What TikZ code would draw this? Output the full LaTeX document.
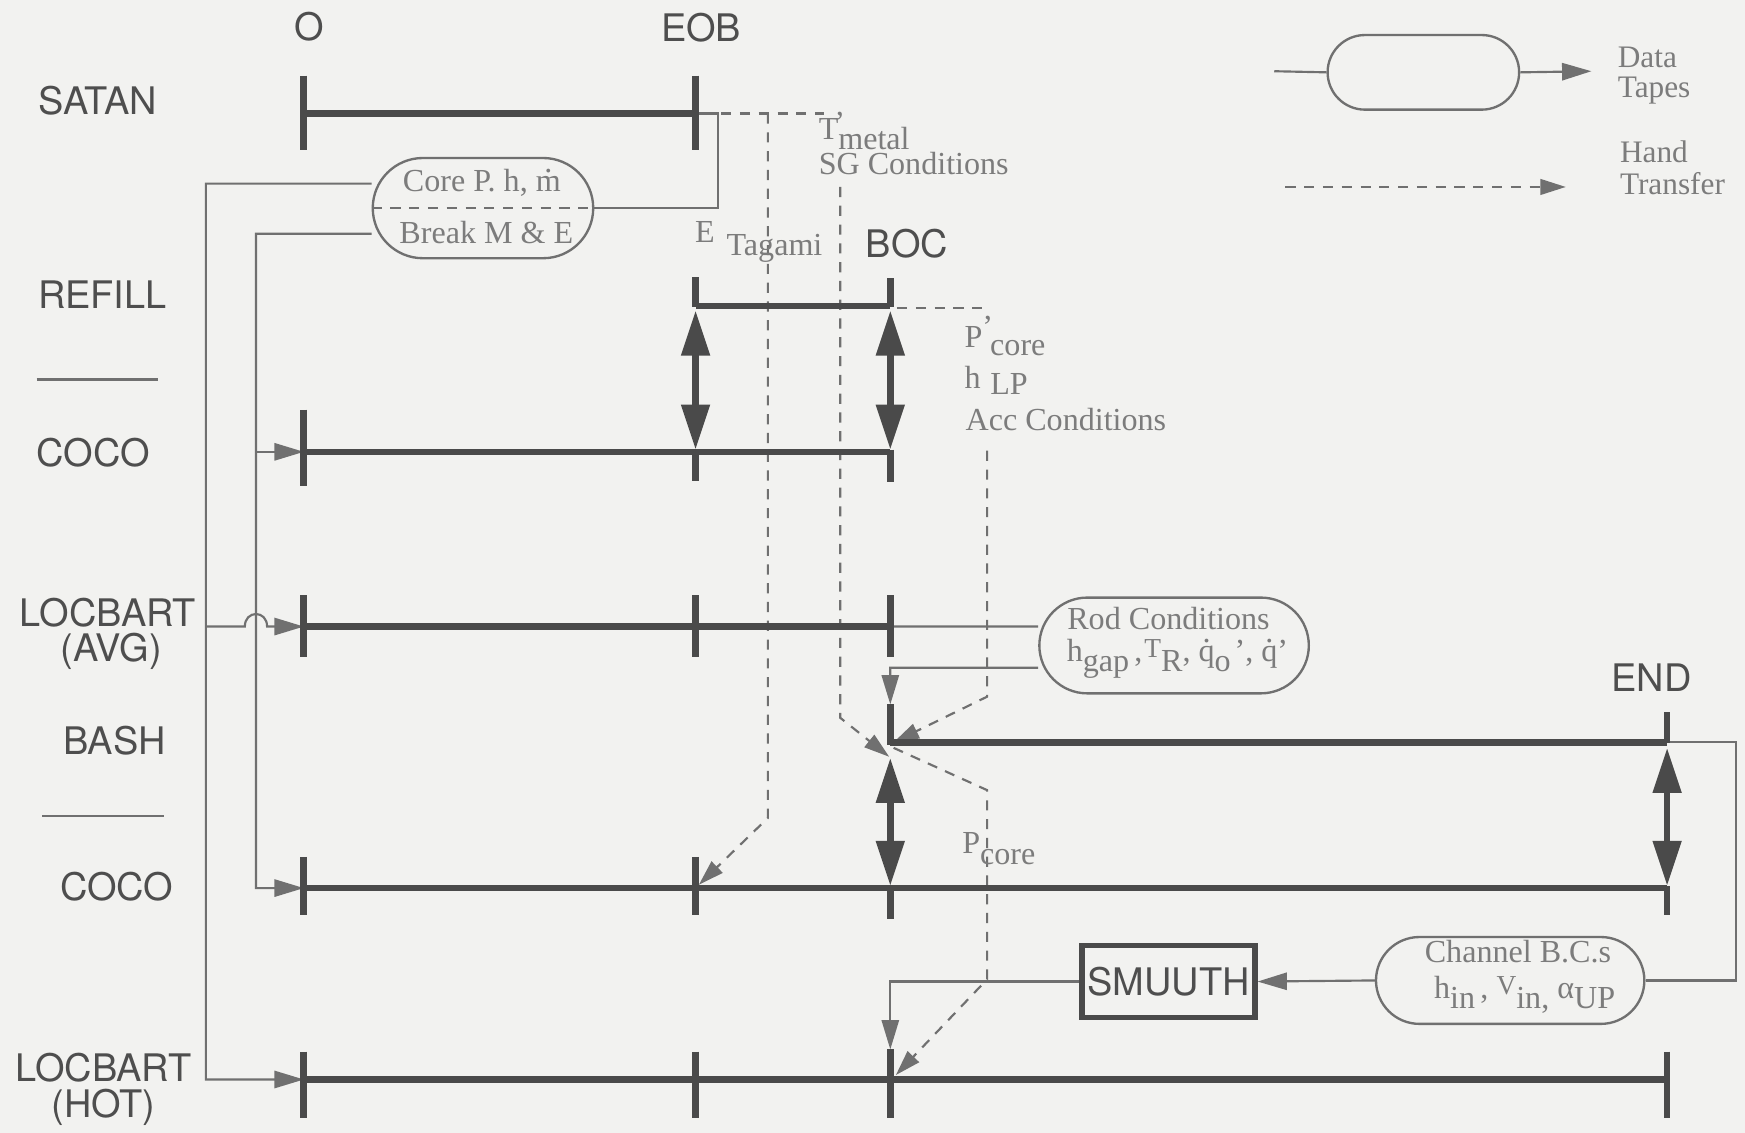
\documentclass[tikz,border=0pt]{standalone}
\usepackage{fontspec}
\setmainfont{Liberation Serif}
\newfontfamily\hv{TeX Gyre Heros}
\usetikzlibrary{arrows.meta,shapes.misc}
\definecolor{bgc}{HTML}{F2F2F0}
\definecolor{ink}{HTML}{4A4A4A}
\definecolor{thinc}{HTML}{707070}
\definecolor{txt}{HTML}{7C7C7C}
\definecolor{lab}{HTML}{4E4E4E}
\pgfdeclarelayer{bglayer}
\pgfdeclarelayer{linelayer}
\pgfsetlayers{bglayer,linelayer,main}
\newcommand\sbs[2][2.6pt]{\raisebox{-#1}{#2}}
\newcommand\mydot[1]{\setbox0=\hbox{#1}\hbox{\rlap{\hbox to \wd0{\hss\smash{\raisebox{0.58em}{.}}\hss}}\box0}}
\begin{document}
\begin{tikzpicture}[x=0.01cm,y=-0.01cm,
  tl/.style={line width=1.7pt,draw=ink},
  thn/.style={line width=0.55pt,draw=thinc},
  hnd/.style={line width=0.55pt,draw=thinc,dash pattern=on 2.6pt off 2.2pt},
  arr/.style={-{Triangle[length=7.5pt,width=4.4pt]}},
  harr/.style={-{Triangle[length=6.5pt,width=4pt]}},
  dbl/.style={line width=1.7pt,draw=ink,{Triangle[length=11.5pt,width=7pt]}-{Triangle[length=11.5pt,width=7pt]}},
  sans/.style={font=\hv\fontsize{9.7}{11}\selectfont,text=lab,inner sep=0pt},
  ser/.style={font=\fontsize{8.2}{9}\selectfont,text=txt,inner sep=0pt},
  leg/.style={font=\fontsize{8}{9}\selectfont,text=txt,inner sep=0pt},
  pill/.style={rounded rectangle,draw=thinc,line width=0.6pt,fill=bgc,inner sep=0pt},
]
\begin{pgfonlayer}{bglayer}
\fill[bgc] (0,0) rectangle (1568,1018);
\end{pgfonlayer}
\useasboundingbox (0,0) rectangle (1568,1018);

% timeline points
\coordinate (sO) at (273,102); \coordinate (sE) at (625,102);
\coordinate (rE) at (625,275); \coordinate (rB) at (800,275);
\coordinate (aO) at (273,406); \coordinate (aE) at (625,406); \coordinate (aB) at (800,406);
\coordinate (vO) at (273,563); \coordinate (vE) at (625,563); \coordinate (vB) at (800,563);
\coordinate (bB) at (800,667); \coordinate (bN) at (1498,667);
\coordinate (cO) at (273,798); \coordinate (cE) at (625,798); \coordinate (cB) at (800,798); \coordinate (cN) at (1498,798);
\coordinate (hO) at (273,970); \coordinate (hE) at (625,970); \coordinate (hB) at (800,970); \coordinate (hN) at (1498,970);

% SATAN
\draw[tl] (sO) -- (sE);
\draw[tl] (273,68) -- (273,135); \draw[tl] (625,68) -- (625,135);
% REFILL
\draw[tl] (rE) -- (rB);
\draw[tl] (625,249) -- (625,276); \draw[tl] (800,250) -- (800,276);
\draw[dbl] (625,279) -- (625,404);
\draw[dbl] (800,279) -- (800,404);
% COCO 1
\draw[tl] (aO) -- (aB);
\draw[tl] (273,368) -- (273,437); \draw[tl] (625,404) -- (625,432); \draw[tl] (800,404) -- (800,433);
% LOCBART AVG
\draw[tl] (vO) -- (vB);
\draw[tl] (273,535) -- (273,590); \draw[tl] (625,535) -- (625,590); \draw[tl] (800,535) -- (800,590);
% BASH
\draw[tl] (bB) -- (bN);
\draw[tl] (800,633) -- (800,669); \draw[tl] (1498,640) -- (1498,668);
\draw[dbl] (800,681) -- (800,796);
\draw[dbl] (1498,672) -- (1498,796);
% COCO 2
\draw[tl] (cO) -- (cN);
\draw[tl] (273,770) -- (273,822); \draw[tl] (625,770) -- (625,822);
\draw[tl] (800,796) -- (800,826); \draw[tl] (1498,796) -- (1498,822);
% LOCBART HOT
\draw[tl] (hO) -- (hN);
\draw[tl] (273,945) -- (273,1005); \draw[tl] (625,945) -- (625,1005);
\draw[tl] (800,943) -- (800,1005); \draw[tl] (1498,945) -- (1498,1005);

% separators
\draw[thn] (33,341) -- (142,341);
\draw[thn] (38,733) -- (147,733);

% pills and box
\node[pill,minimum width=1.98cm,minimum height=0.9cm] (core) at (434,187) {};
\draw[hnd] (core.west) -- (core.east);
\node[ser,anchor=base] (coret) at (433,172) {Core P. h, \mydot{m}};
\node[ser,anchor=base] (coreb) at (437,219) {Break M \& E};

\node[pill,minimum width=2.42cm,minimum height=0.86cm] (rod) at (1055,580) {};
\node[ser,anchor=base] (rod1) at (1050,566) {Rod Conditions};
\node[ser,anchor=base] (rod2) at (1058,594) {h\sbs{gap}\,,\kern0.5pt\raisebox{1pt}{\fontsize{7}{8}\selectfont T}\sbs{R}, \mydot{q}\sbs{o}\kern1pt’, \mydot{q}’};

\node[pill,minimum width=2.41cm,minimum height=0.78cm] (chan) at (1357,881) {};
\node[ser,anchor=base] (ch1) at (1364,865) {Channel B.C.s};
\node[ser,anchor=base] (ch2) at (1370,897) {h\sbs{in}\,, \raisebox{1pt}{\fontsize{7}{8}\selectfont V}\sbs{in,} α\sbs{UP}};

\node[sans,draw=ink,line width=1.4pt,fill=bgc,minimum width=1.55cm,minimum height=0.65cm] (smu) at (1050,882) {SMUUTH};

\node[pill,minimum width=1.72cm,minimum height=0.67cm] (leg) at (1279,65) {};

% connectors
\begin{pgfonlayer}{linelayer}
\draw[thn] (sE) -- (645,102) -- (645,187) -- (core.east);
\draw[thn,arr] ([yshift=0.22cm]core.west) -- (185,165) -- (185,970) -- (hO);
\draw[thn,arr] ([yshift=-0.23cm]core.west) -- (230,210) -- (230,798) -- (cO);
\draw[thn,arr] (230,406) -- (aO);
\draw[thn,arr] (185,563) -- (220,563) .. controls (220,548) and (240,548) .. (240,563) -- (vO);
\draw[thn] (vB) -- ([yshift=0.17cm]rod.west);
\draw[thn,arr] ([yshift=-0.2cm]rod.west) -- (800,600) -- (800,633);
\draw[thn] (bN) -- (1560,667) -- (1560,881) -- (chan.east);
\draw[thn,arr] (chan.west) -- (smu.east);
\draw[thn,arr] (smu.west) -- (800,882) -- (800,943);
\draw[thn] (1145,64) -- (leg.west);
\draw[thn,arr] (leg.east) -- (1430,64);
% hand transfers
\draw[hnd] (648,102) -- (740,102);
\draw[hnd,harr] (690,102) -- (690,735) -- (628,795);
\draw[hnd,harr] (755,168) -- (755,645) -- (799,680);
\draw[hnd] (806,277) -- (890,277);
\draw[hnd,harr] (887,405) -- (887,626) -- (803,667);
\draw[hnd,harr] (803,672) -- (887,710) -- (887,880) -- (805,966);
\draw[hnd,harr] (1155,168) -- (1407,168);
\end{pgfonlayer}

% row labels
\node[sans,anchor=base] (nSat) at (88,103) {SATAN};
\node[sans,anchor=base] (nRef) at (92,277) {REFILL};
\node[sans,anchor=base] (nC1) at (84,419) {COCO};
\node[sans,anchor=base] (nLA1) at (97,563) {LOCBART};
\node[sans,anchor=base] (nLA2) at (100,594) {(AVG)};
\node[sans,anchor=base] (nBash) at (103,678) {BASH};
\node[sans,anchor=base] (nC2) at (105,809) {COCO};
\node[sans,anchor=base] (nLH1) at (93,972) {LOCBART};
\node[sans,anchor=base] (nLH2) at (93,1004) {(HOT)};
% column labels
\node[sans,anchor=base] (lO) at (278,36) {O};
\node[sans,anchor=base] (lEOB) at (630,37) {EOB};
\node[sans,anchor=base] (lBOC) at (815,231) {BOC};
\node[sans,anchor=base] (lEND) at (1484,621) {END};

% transfer labels
\node[ser,anchor=base west] (tmet) at (735,125) {T\rlap{\kern-1pt\raisebox{1.5pt}{’}}\sbs[2.6pt]{metal}};
\node[ser,anchor=base west] (sgc) at (735,157) {SG Conditions};
\node[ser,anchor=base west] (etag) at (624,218) {E\kern3pt\sbs[3.4pt]{Tagami}};
\node[ser,anchor=base west] (pc1) at (866,312) {P\rlap{\raisebox{2.5pt}{’}}\kern2pt\sbs[2pt]{core}};
\node[ser,anchor=base west] (hlp) at (866,349) {h\kern2.5pt\sbs[1.6pt]{LP}};
\node[ser,anchor=base west] (acc) at (867,387) {Acc Conditions};
\node[ser,anchor=base west] (pc2) at (864,767) {P\sbs[2.8pt]{core}};

% legend text
\node[leg,anchor=base west] (ld1) at (1453,61) {Data};
\node[leg,anchor=base west] (ld2) at (1453,88) {Tapes};
\node[leg,anchor=base west] (lh1) at (1455,146) {Hand};
\node[leg,anchor=base west] (lh2) at (1455,175) {Transfer};
\end{tikzpicture}
\end{document}
